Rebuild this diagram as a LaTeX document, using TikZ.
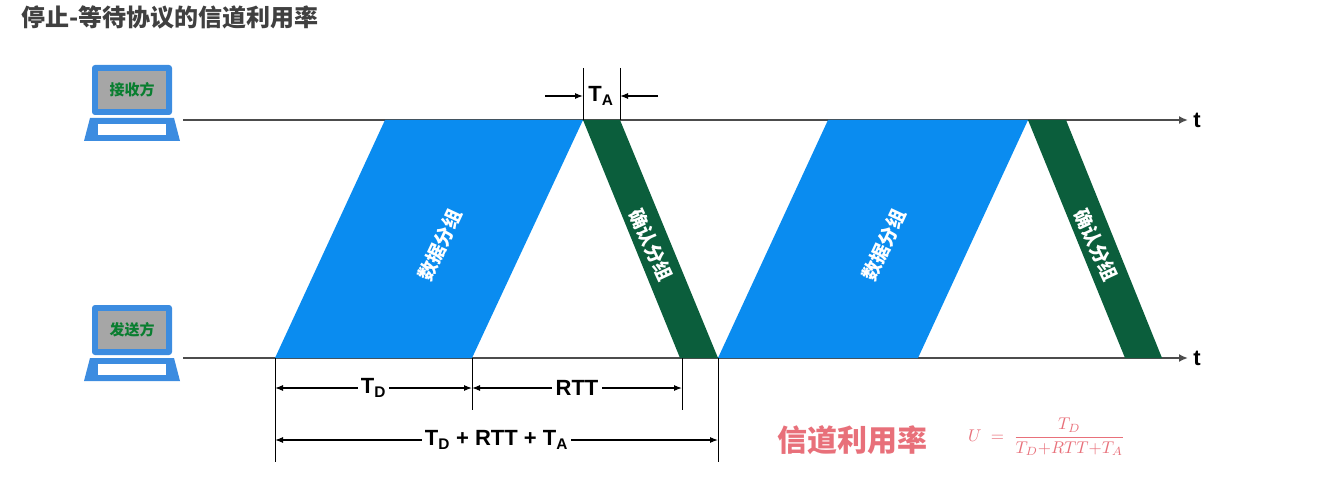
\documentclass[tikz,border=0pt]{standalone}
\usepackage{fontspec}
\setmainfont{Liberation Sans}
\newfontfamily\cjk{Noto Sans CJK SC}[BoldFont={* Black}]
\usetikzlibrary{arrows.meta}
\definecolor{dblue}{HTML}{0A8CF0}
\definecolor{dgreen}{HTML}{0B5E3C}
\definecolor{pc}{HTML}{3C8CE0}
\definecolor{pink}{HTML}{E8707A}
\tikzset{
  tl/.style={line width=2.2pt,draw=black!70,-{Latex[length=9pt,width=8pt]}},
  dim/.style={line width=1.1pt,{Latex[length=8pt,width=6pt]}-{Latex[length=8pt,width=6pt]}},
  tick/.style={line width=0.8pt},
  lbl/.style={font=\fontsize{22}{22}\selectfont\bfseries},
  pk/.style={text=white,font=\cjk\bfseries\fontsize{19}{19}\selectfont},
}
\begin{document}
\begin{tikzpicture}[x=1pt,y=-1pt]
\useasboundingbox (0,0) rectangle (1325,500);
\node[anchor=west,text=black!75,font=\cjk\bfseries\fontsize{24}{24}\selectfont] (title) at (18,17) {停止-等待协议的信道利用率};
% computers
\foreach \yy/\nm/\txt in {65/rc/接收方,305/sd/发送方}{
  \fill[pc,rounded corners=3pt] (92,\yy) rectangle (172,\yy+50);
  \fill[gray!70] (98,\yy+6) rectangle (166,\yy+44);
  \node[text=dgreen!80!green,font=\cjk\bfseries\fontsize{15}{15}\selectfont] (\nm) at (132,\yy+25) {\txt};
  \fill[pc] (90,\yy+53) -- (174,\yy+53) -- (180,\yy+76) -- (84,\yy+76) -- cycle;
  \fill[white] (98,\yy+59) rectangle (166,\yy+70);
}
% timelines
\coordinate (r0) at (183,120); \coordinate (r1) at (1188,120);
\coordinate (s0) at (183,358); \coordinate (s1) at (1188,358);
\draw[tl] (r0) -- (r1) node[right=1pt,lbl,text=black] {t};
\draw[tl] (s0) -- (s1) node[right=1pt,lbl,text=black] {t};
% packets
\fill[dblue] (275,358) -- (472,358) -- (583,120) -- (385,120) -- cycle;
\fill[dgreen] (583,120) -- (620,120) -- (718,358) -- (680,358) -- cycle;
\fill[dblue] (718,358) -- (918,358) -- (1028,120) -- (828,120) -- cycle;
\fill[dgreen] (1028,120) -- (1066,120) -- (1162,358) -- (1125,358) -- cycle;
\node[pk,rotate=65] (d1) at (440,245) {数据分组};
\node[pk,rotate=-65] (a1) at (651,245) {确认分组};
\node[pk,rotate=65] (d2) at (884,245) {数据分组};
\node[pk,rotate=-65] (a2) at (1096,245) {确认分组};
% TA
\draw[tick] (583,68) -- (583,120);
\draw[tick] (620,68) -- (620,120);
\draw[line width=1.1pt,-{Latex[length=8pt,width=6pt]}] (545,96) -- (583,96);
\draw[line width=1.1pt,-{Latex[length=8pt,width=6pt]}] (658,96) -- (620,96);
\node[lbl] (ta) at (601,96) {T\textsubscript{A}};
% bottom dims
\draw[tick] (275,358) -- (275,462);
\draw[tick] (472,358) -- (472,410);
\draw[tick] (682,358) -- (682,410);
\draw[tick] (718,358) -- (718,462);
\draw[dim] (275,388) -- node[fill=white,lbl] (td) {T\textsubscript{D}} (472,388);
\draw[dim] (472,388) -- node[fill=white,lbl] (rtt) {RTT} (682,388);
\draw[dim] (275,440) -- node[fill=white,lbl] (tot) {T\textsubscript{D} + RTT + T\textsubscript{A}} (718,440);
% formula
\node[anchor=west,text=pink,font=\cjk\bfseries\fontsize{30}{30}\selectfont] (ul) at (774,440) {信道利用率};
\node[anchor=west,text=pink,scale=1.7] (eq) at (962,437)
  {$U\;=\;\displaystyle\frac{T_D}{T_D{+}RTT{+}T_A}$};
\end{tikzpicture}
\end{document}
